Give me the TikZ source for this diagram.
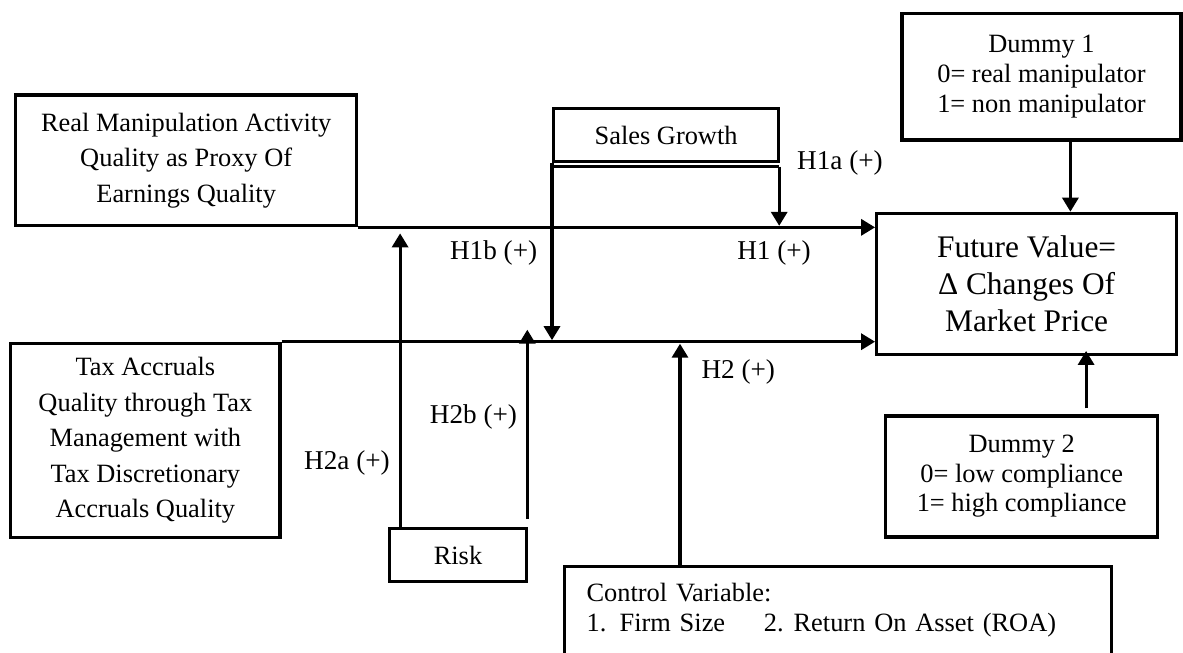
\documentclass[tikz,border=0pt]{standalone}
\usepackage{fontspec}
\setmainfont{Liberation Serif}
\usetikzlibrary{arrows.meta,calc}
\tikzset{
  every picture/.style={>={Triangle[length=7pt,width=8pt]}},
  box/.style={draw,line width=1.6pt,inner sep=0pt,align=center,font=\fontsize{13.2}{17.7}\selectfont},
  link/.style={line width=1.6pt},
  hyp/.style={inner sep=0pt,font=\fontsize{13.6}{16}\selectfont},
}

\begin{document}
\begin{tikzpicture}[x=0.5pt,y=-0.5pt]
\useasboundingbox (0,0) rectangle (1183,653);
\clip (0,0) rectangle (1183,653);
% variables
\node[box,minimum width=170.5pt,minimum height=65.35pt] (real) at (186.2,160.4) {Real Manipulation Activity\\Quality as Proxy Of\\Earnings Quality};
\node[box,minimum width=134.65pt,minimum height=97pt] (tax) at (145.35,440.3) {Tax Accruals\\Quality through Tax\\Management with\\Tax Discretionary\\Accruals Quality};
\node[box,minimum width=112.5pt,minimum height=26.7pt] (sales) at (666.1,135) {Sales Growth};
\node[box,minimum width=68.7pt,minimum height=26.7pt] (risk) at (458,555) {Risk};
\node[box,minimum width=149.9pt,minimum height=70.5pt,font=\fontsize{15.7}{18.3}\selectfont] (future) at (1026.6,283.8) {Future Value=\\Δ Changes Of\\Market Price};
\node[box,minimum width=139.5pt,minimum height=63.35pt,font=\fontsize{13.2}{14.9}\selectfont] (dummy1) at (1041.5,76.65) {Dummy 1\\0= real manipulator\\1= non manipulator};
\node[box,minimum width=136pt,minimum height=60.5pt,font=\fontsize{13.2}{14.7}\selectfont] (dummy2) at (1021.7,476.5) {Dummy 2\\0= low compliance\\1= high compliance};
\node[box,anchor=north west,align=left,text width=251.25pt,inner xsep=11.25pt,inner ysep=8.5pt,text depth=60pt,font=\fontsize{13.2}{15}\selectfont] (ctrl) at (562.5,565) {Control Variable:\\1. Firm Size\hspace{19.3pt}2.\hspace{5pt}Return On Asset (ROA)};
% main paths
\draw[link,->] (real.south east) -- (real.south east -| future.west);
\draw[link,->] (tax.north east) -- (tax.north east -| future.west);
% moderation by sales growth
\coordinate (sgL) at ($(sales.south west)+(0,3.3)$);
\coordinate (sgR) at ($(sales.south east)+(-1,3.3)$);
\draw[link] (sgL) -- (sgR);
\draw[link,->] (sgR) -- ($(sgR |- real.south east)+(0,-1.5)$);
\draw[link,->] (sales.south west) -- ($(sales.south west |- tax.north east)+(0,-1.5)$);
% moderation by risk
\draw[link,->] ($(risk.north west)+(12.4,0)$) -- ($(risk.north west |- real.south east)+(12.4,6)$);
\draw[link,->] ($(risk.north east)+(-1,-7.6)$) -- ($(risk.north east |- tax.north east)+(-1,-12)$);
% control and dummies
\draw[link,->] ($(ctrl.north west)+(117.5,0)$) -- ($(ctrl.north west |- tax.north east)+(117.5,2)$);
\draw[link,->] ($(dummy1.south west)+(170,0)$) -- ($(dummy1.south west |- future.north)+(170,0)$);
\draw[link,->] ($(dummy2.north west)+(202,-6)$) -- ($(dummy2.north west |- future.south)+(202,-5)$);
% hypotheses
\node[hyp] (h1a) at (840,163.3) {H1a (+)};
\node[hyp] (h1) at (774,253.3) {H1 (+)};
\node[hyp] (h1b) at (493.6,253.3) {H1b (+)};
\node[hyp] (h2a) at (347,463.3) {H2a (+)};
\node[hyp] (h2b) at (473.5,416.7) {H2b (+)};
\node[hyp] (h2) at (738.3,371.7) {H2 (+)};
\end{tikzpicture}
\end{document}
